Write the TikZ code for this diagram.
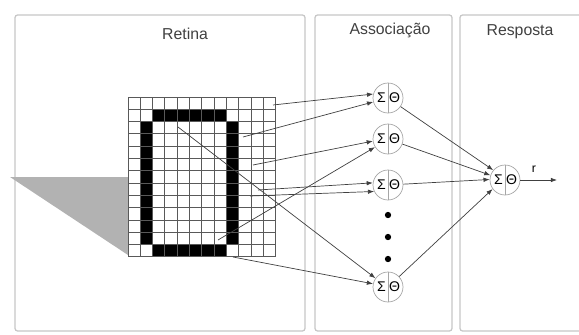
\documentclass[tikz,border=0pt]{standalone}
\usepackage{fontspec}
\setmainfont{Liberation Sans}
\usetikzlibrary{arrows.meta}

\begin{document}
\begin{tikzpicture}[x=0.02cm,y=-0.02cm,
        panel/.style={draw=gray!45,line width=0.7pt,rounded corners=1.5pt},
        title/.style={text=black!75,font=\small},
        cellline/.style={draw=black!65,line width=0.5pt},
        neuron/.style={circle,draw=gray!70,minimum size=0.6cm,inner sep=0pt,font=\footnotesize,
            path picture={\draw[gray!70] (path picture bounding box.north) -- (path picture bounding box.south);}},
        link/.style={draw=black!75,line width=0.4pt,-{Latex[length=3.5pt,width=2.6pt]}}]
    \useasboundingbox (0,0) rectangle (579,335);
    % panels
    \draw[panel] (15,15) rectangle (305,331);
    \draw[panel] (315,15) rectangle (452,331);
    \draw[panel] (579,15) -- (460,15) -- (460,331) -- (579,331);
    \node[title] (tret) at (185,34) {Retina};
    \node[title] (tass) at (390,30) {Associação};
    \node[title] (tres) at (520,32) {Resposta};
    % shadow of the retina
    \fill[gray!60] (10,177) -- (128,177) -- (128,255) -- cycle;
    % the figure on the retina
    \fill (128+12.3*2,97+12.3) rectangle ++(12.3*6,12.3);
    \fill (128+12.3*2,97+12.3*12) rectangle ++(12.3*6,12.3);
    \fill (128+12.3,97+12.3*2) rectangle ++(12.3,12.3*10);
    \fill (128+12.3*8,97+12.3*2) rectangle ++(12.3,12.3*10);
    \foreach \i in {0,...,12}
        \draw[cellline] ({128+12.3*\i},97) -- ++(0,159.9);
    \foreach \j in {0,...,13}
        \draw[cellline] (128,{97+12.3*\j}) -- ++(147.6,0);
    % units
    \node[neuron] (a1) at (388,98) {\makebox[0.26cm]{Σ}\makebox[0.26cm]{Θ}};
    \node[neuron] (a2) at (388,139) {\makebox[0.26cm]{Σ}\makebox[0.26cm]{Θ}};
    \node[neuron] (a3) at (388,185) {\makebox[0.26cm]{Σ}\makebox[0.26cm]{Θ}};
    \node[neuron] (a4) at (388,287) {\makebox[0.26cm]{Σ}\makebox[0.26cm]{Θ}};
    \node[neuron] (o) at (505,180) {\makebox[0.26cm]{Σ}\makebox[0.26cm]{Θ}};
    \foreach \y in {215,237,259}
        \fill (388,\y) circle (1.8pt);
    % retina to association
    \foreach \x/\y/\t [count=\i] in {273/105/a1.165, 243/137/a1.195, 253/165/a2.188,
            218/240/a2.212, 258/190/a3.172, 250/196/a3.205, 178/127/a4.145, 233/257/a4.168} {
        \coordinate (s\i) at (\x,\y);
        \draw[link] (s\i) -- (\t);
    }
    % association to response
    \foreach \a/\b in {a1/140, a2/162, a3/178, a4/216}
        \draw[link] (\a) -- (o.\b);
    \coordinate (out) at (557,180);
    \draw[link] (o) -- (out);
    \node[font=\scriptsize] (r) at (534,169) {r};
\end{tikzpicture}
\end{document}
